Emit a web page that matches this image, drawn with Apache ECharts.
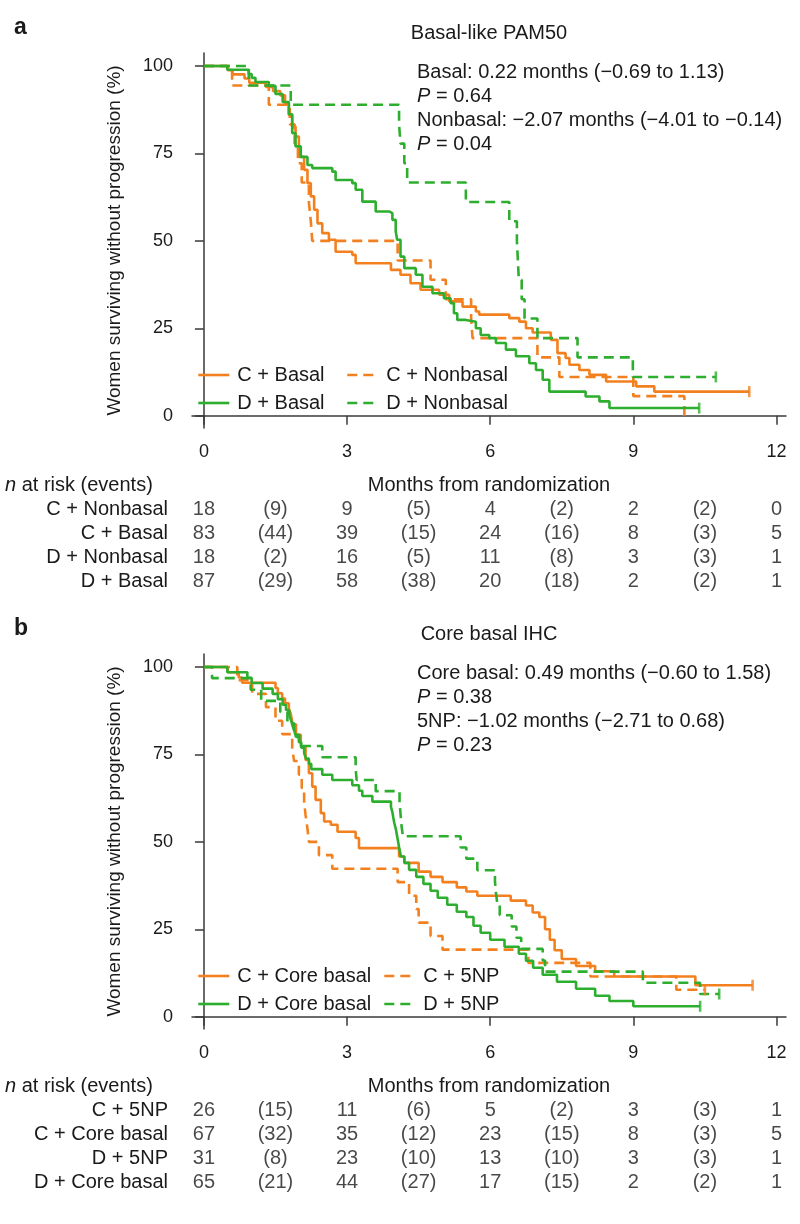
<!DOCTYPE html>
<html><head><meta charset="utf-8">
<script src="https://cdn.jsdelivr.net/npm/echarts@6/dist/echarts.min.js"></script>
<style>html,body{margin:0;padding:0;background:#fff}#c{width:800px;height:1224px}</style>
</head><body><div id="c"></div>
<script>
// ---------- Panel a (Basal-like PAM50): [months, % surviving] ----------
const a_C_Basal = [[0,100],[0.5,98.8],[0.6,97.6],[0.85,96.4],[0.95,95.2],[1.3,94.0],[1.45,92.8],[1.6,91.6],[1.7,89.2],[1.78,86.0],[1.85,82.7],[1.92,79.8],[1.99,74.0],[2.1,70.3],[2.17,66.5],[2.24,62.7],[2.31,58.9],[2.38,55.0],[2.48,52.2],[2.62,50.3],[2.76,46.9],[3.11,46.0],[3.18,43.6],[3.92,41.7],[4.12,40.3],[4.33,37.9],[4.54,36.0],[4.93,34.6],[5.14,32.7],[5.42,31.2],[5.7,29.8],[5.77,28.9],[6.4,27.9],[6.61,26.9],[6.75,25.0],[6.89,23.8],[7.27,21.7],[7.41,17.9],[7.58,16.5],[7.66,14.6],[7.87,13.1],[8.08,11.7],[8.43,9.8],[9.06,8.4],[9.44,6.9],[11.43,6.9]];
const a_C_Nonbasal = [[0,100],[0.59,94.4],[1.36,88.9],[1.8,83.3],[1.9,77.8],[1.97,72.2],[2.05,66.7],[2.2,61.1],[2.24,55.6],[2.27,50.0],[4.06,44.4],[4.75,38.9],[5.07,33.3],[5.6,27.8],[5.63,22.2],[6.99,16.7],[7.45,11.1],[9.0,5.6],[10.07,0]];
const a_D_Basal = [[0,100],[0.49,98.9],[0.94,97.7],[1.0,96.6],[1.08,95.4],[1.36,94.3],[1.5,92.0],[1.65,89.7],[1.78,86.2],[1.85,80.8],[1.92,77.0],[2.03,74.0],[2.17,71.7],[2.27,70.8],[2.69,69.8],[2.76,67.4],[3.11,66.5],[3.18,64.6],[3.32,61.2],[3.6,58.4],[3.88,57.9],[3.95,56.0],[4.02,52.7],[4.05,50.3],[4.12,45.5],[4.2,42.2],[4.44,40.3],[4.58,36.9],[4.79,35.0],[5.03,33.6],[5.17,32.2],[5.24,29.3],[5.31,27.4],[5.49,26.9],[5.7,25.0],[5.8,23.1],[5.98,22.2],[6.12,20.8],[6.33,18.9],[6.54,17.0],[6.82,15.0],[6.96,13.1],[7.1,10.3],[7.24,6.9],[8.0,5.5],[8.29,4.1],[8.5,2.2],[10.38,2.2]];
const a_D_Nonbasal = [[0,100],[0.94,94.4],[1.82,88.9],[4.09,83.3],[4.12,77.8],[4.2,72.2],[4.26,66.7],[5.49,61.1],[6.4,55.6],[6.56,50.0],[6.58,44.4],[6.6,38.9],[6.66,33.3],[6.72,27.8],[6.99,22.2],[7.83,16.7],[8.99,11.1],[10.73,11.1]];

// ---------- Panel b (Core basal IHC) ----------
const b_C_Core = [[0,100],[0.5,98.5],[0.73,97.0],[0.8,95.5],[1.5,94.0],[1.55,92.5],[1.64,91.0],[1.7,89.6],[1.78,88.1],[1.82,86.6],[1.86,83.6],[1.93,80.6],[2.03,77.2],[2.13,73.4],[2.2,69.6],[2.27,65.8],[2.34,62.0],[2.45,58.2],[2.52,55.8],[2.66,54.9],[2.8,52.9],[3.18,51.1],[3.25,48.2],[4.09,45.8],[4.2,44.0],[4.5,41.5],[4.75,40.0],[5.0,38.5],[5.3,37.0],[5.5,35.8],[5.73,34.6],[6.43,33.2],[6.75,31.8],[6.89,29.8],[7.03,28.5],[7.15,25.0],[7.25,22.0],[7.35,19.0],[7.5,16.5],[7.8,14.5],[8.2,13.0],[8.6,11.5],[10.3,9.0],[11.5,9.0]];
const b_C_5NP = [[0,100],[0.7,96.2],[1.01,92.3],[1.3,88.5],[1.5,84.6],[1.64,80.8],[1.85,76.9],[1.89,73.1],[1.99,69.2],[2.05,65.4],[2.1,61.5],[2.13,57.7],[2.17,53.8],[2.2,50.0],[2.41,46.2],[2.69,42.3],[4.06,38.5],[4.3,34.6],[4.45,30.8],[4.5,26.9],[4.75,23.1],[5.0,19.2],[6.8,15.4],[8.1,11.5],[9.9,7.7],[10.5,7.7]];
const b_D_Core = [[0,100],[0.49,98.5],[0.91,96.9],[1.0,95.4],[1.23,93.8],[1.44,92.3],[1.55,90.8],[1.65,89.2],[1.72,87.7],[1.79,86.2],[1.83,84.6],[1.86,83.1],[1.9,81.5],[1.93,80.0],[1.99,78.5],[2.04,76.9],[2.1,75.4],[2.14,73.8],[2.2,72.3],[2.25,70.8],[2.48,69.2],[2.69,67.7],[3.11,66.2],[3.25,64.6],[3.32,63.1],[3.53,61.5],[3.92,60.0],[3.95,58.5],[3.97,56.9],[3.99,55.4],[4.02,53.8],[4.04,52.3],[4.06,50.8],[4.1,47.7],[4.13,45.8],[4.2,44.0],[4.3,42.0],[4.45,40.0],[4.6,38.0],[4.75,36.0],[4.9,34.0],[5.1,32.0],[5.3,30.0],[5.5,28.5],[5.65,26.0],[5.8,24.0],[6.0,22.0],[6.3,20.0],[6.6,18.0],[6.75,16.0],[6.9,14.0],[7.1,12.0],[7.4,10.0],[7.8,8.0],[8.2,6.0],[8.5,4.5],[9.0,3.0],[10.4,3.0]];
const b_D_5NP = [[0,100],[0.17,96.8],[0.98,93.5],[1.2,90.3],[1.6,87.1],[1.75,83.9],[1.89,80.6],[2.0,77.4],[2.48,74.2],[3.18,71.0],[3.2,67.7],[3.6,64.5],[4.1,61.3],[4.12,58.1],[4.14,54.8],[4.17,51.6],[5.38,48.4],[5.5,45.2],[5.73,41.9],[6.1,38.7],[6.12,35.5],[6.15,32.3],[6.2,29.0],[6.45,25.8],[6.55,22.6],[6.65,19.4],[7.1,16.1],[7.15,12.9],[9.2,9.7],[10.4,6.5],[10.8,6.5]];

// ---------- Axis ticks ----------
const xTicks = [0, 3, 6, 9, 12];
const yTicks = [0, 25, 50, 75, 100];

// ---------- Number-at-risk tables ----------
const riskTimes = [0, 3, 6, 9, 12];
const eventTimes = [1.5, 4.5, 7.5, 10.5];
const rowsA = ['C + Nonbasal', 'C + Basal', 'D + Nonbasal', 'D + Basal'];
const riskA = [[18, 9, 4, 2, 0], [83, 39, 24, 8, 5], [18, 16, 11, 3, 1], [87, 58, 20, 2, 1]];
const eventsA = [[9, 5, 2, 2], [44, 15, 16, 3], [2, 5, 8, 3], [29, 38, 18, 2]];
const rowsB = ['C + 5NP', 'C + Core basal', 'D + 5NP', 'D + Core basal'];
const riskB = [[26, 11, 5, 3, 1], [67, 35, 23, 8, 5], [31, 23, 13, 3, 1], [65, 44, 17, 2, 1]];
const eventsB = [[15, 6, 2, 3], [32, 12, 15, 3], [8, 10, 10, 3], [21, 27, 15, 2]];

// ---------- Texts ----------
const titleA = 'Basal-like PAM50';
const titleB = 'Core basal IHC';
const annoA = ['Basal: 0.22 months (\u22120.69 to 1.13)', '{i|P} = 0.64', 'Nonbasal: \u22122.07 months (\u22124.01 to \u22120.14)', '{i|P} = 0.04'];
const annoB = ['Core basal: 0.49 months (\u22120.60 to 1.58)', '{i|P} = 0.38', '5NP: \u22121.02 months (\u22122.71 to 0.68)', '{i|P} = 0.23'];

const FONT = '"Liberation Sans", Arial, Helvetica, sans-serif';
const ORANGE = '#f3801f', GREEN = '#2eae2e', TXT = '#1a1a1a', AX = '#3a3a3a';
const OFF = 601; // vertical offset of panel b

const chart = echarts.init(document.getElementById('c'), null, {renderer: 'canvas'});

function plotX(gi) {
  return {
    gridIndex: gi, type: 'value', min: -0.25, max: 12.2,
    axisLine: {show: true, lineStyle: {color: AX, width: 1.5}},
    axisTick: {show: true, customValues: xTicks, length: 9, lineStyle: {color: AX, width: 1.5}},
    axisLabel: {show: true, customValues: xTicks, fontSize: 18, color: TXT, fontFamily: FONT, margin: 15},
    splitLine: {show: false},
    name: 'Months from randomization', nameLocation: 'middle', nameGap: 47,
    nameTextStyle: {fontSize: 20, color: TXT, fontFamily: FONT}
  };
}
function plotY(gi) {
  return {
    gridIndex: gi, type: 'value', min: -3.5, max: 103.7,
    axisLine: {show: true, lineStyle: {color: AX, width: 1.5}},
    axisTick: {show: true, customValues: yTicks, length: 9, lineStyle: {color: AX, width: 1.5}},
    axisLabel: {show: true, customValues: yTicks, fontSize: 18, color: TXT, fontFamily: FONT, margin: 19},
    splitLine: {show: false},
    name: 'Women surviving without progression (%)', nameLocation: 'middle', nameGap: 68,
    nameTextStyle: {fontSize: 19, color: TXT, fontFamily: FONT}
  };
}
function tableX(gi) {
  return {gridIndex: gi, type: 'value', min: -0.25, max: 12.2, show: false};
}
function tableY(gi, rows) {
  return {
    gridIndex: gi, type: 'category', data: rows, inverse: true,
    axisLine: {show: false}, axisTick: {show: false}, splitLine: {show: false},
    axisLabel: {interval: 0, fontSize: 20, color: TXT, fontFamily: FONT, margin: 24}
  };
}
function km(name, pts, xi, color, dashed) {
  return {
    name, type: 'line', xAxisIndex: xi, yAxisIndex: xi, step: 'end',
    symbol: 'none', showSymbol: false, legendIcon: 'none', data: pts,
    lineStyle: {color, width: 2.6, type: dashed ? [10, 6] : 'solid'},
    itemStyle: {color},
    emphasis: {disabled: true}, animation: false, silent: true
  };
}
// censoring tick at the end of each curve (taken from the last point of each array)
function endTicks(list, xi) {
  return {
    type: 'scatter', xAxisIndex: xi, yAxisIndex: xi, symbol: 'rect', symbolSize: [2.6, 11],
    silent: true, animation: false, z: 3,
    data: list.map(([pts, color]) => ({value: pts[pts.length - 1], itemStyle: {color}}))
  };
}
function table(rows, risk, ev, xi) {
  const data = [];
  rows.forEach((r, ri) => {
    risk[ri].forEach((v, k) => data.push([riskTimes[k], ri, String(v)]));
    ev[ri].forEach((v, k) => data.push([eventTimes[k], ri, '(' + v + ')']));
  });
  return {
    type: 'scatter', xAxisIndex: xi, yAxisIndex: xi, data, symbolSize: 0,
    itemStyle: {color: 'rgba(0,0,0,0)'}, silent: true, animation: false,
    label: {show: true, position: 'inside', formatter: p => p.value[2], fontSize: 20, color: TXT, fontFamily: FONT}
  };
}
function legend(name, left, top) {
  return {
    data: [name], left, top, itemWidth: 31, itemHeight: 12, padding: 0,
    selectedMode: false,
    itemStyle: {opacity: 0, borderWidth: 0},
    lineStyle: {width: 2.6},
    textStyle: {fontSize: 20, color: TXT, fontFamily: FONT, padding: [0, 0, 0, 3]}
  };
}
function txt(x, y, text, extra) {
  return {
    type: 'text', x, y, silent: true,
    style: Object.assign({
      text, fontSize: 20, fontFamily: FONT, fill: TXT,
      textVerticalAlign: 'middle', verticalAlign: 'middle',
      rich: {i: {fontStyle: 'italic', fontSize: 20, fontFamily: FONT, fill: TXT}}
    }, extra || {})
  };
}

const graphics = [];
graphics.push(txt(14, 28, 'a', {fontSize: 23, fontWeight: 'bold'}));
graphics.push(txt(14, 28 + OFF, 'b', {fontSize: 23, fontWeight: 'bold'}));
graphics.push(txt(489, 33, titleA, {textAlign: 'center', align: 'center'}));
graphics.push(txt(489, 33 + OFF, titleB, {textAlign: 'center', align: 'center'}));
annoA.forEach((t, i) => graphics.push(txt(417, 72 + 24 * i, t)));
annoB.forEach((t, i) => graphics.push(txt(417, 72 + 24 * i + OFF, t)));
graphics.push(txt(5, 485, '{i|n} at risk (events)'));
graphics.push(txt(5, 485 + OFF, '{i|n} at risk (events)'));

const option = {
  backgroundColor: '#ffffff',
  animation: false,
  textStyle: {fontFamily: FONT},
  grid: [
    {left: 192, top: 53, width: 594, height: 375},
    {left: 192, top: 498, width: 594, height: 95},
    {left: 192, top: 53 + OFF, width: 594, height: 375},
    {left: 192, top: 498 + OFF, width: 594, height: 95}
  ],
  xAxis: [plotX(0), tableX(1), plotX(2), tableX(3)],
  yAxis: [plotY(0), tableY(1, rowsA), plotY(2), tableY(3, rowsB)],
  legend: [
    legend('C + Basal', 197, 365), legend('C + Nonbasal', 346, 365),
    legend('D + Basal', 197, 393), legend('D + Nonbasal', 346, 393),
    legend('C + Core basal', 197, 365 + OFF), legend('C + 5NP', 383, 365 + OFF),
    legend('D + Core basal', 197, 393 + OFF), legend('D + 5NP', 383, 393 + OFF)
  ],
  series: [
    km('C + Basal', a_C_Basal, 0, ORANGE, false),
    km('C + Nonbasal', a_C_Nonbasal, 0, ORANGE, true),
    km('D + Basal', a_D_Basal, 0, GREEN, false),
    km('D + Nonbasal', a_D_Nonbasal, 0, GREEN, true),
    km('C + Core basal', b_C_Core, 2, ORANGE, false),
    km('C + 5NP', b_C_5NP, 2, ORANGE, true),
    km('D + Core basal', b_D_Core, 2, GREEN, false),
    km('D + 5NP', b_D_5NP, 2, GREEN, true),
    endTicks([[a_C_Basal, ORANGE], [a_D_Basal, GREEN], [a_D_Nonbasal, GREEN]], 0),
    endTicks([[b_C_Core, ORANGE], [b_C_5NP, ORANGE], [b_D_Core, GREEN], [b_D_5NP, GREEN]], 2),
    table(rowsA, riskA, eventsA, 1),
    table(rowsB, riskB, eventsB, 3)
  ],
  graphic: graphics
};
chart.setOption(option);
</script></body></html>
